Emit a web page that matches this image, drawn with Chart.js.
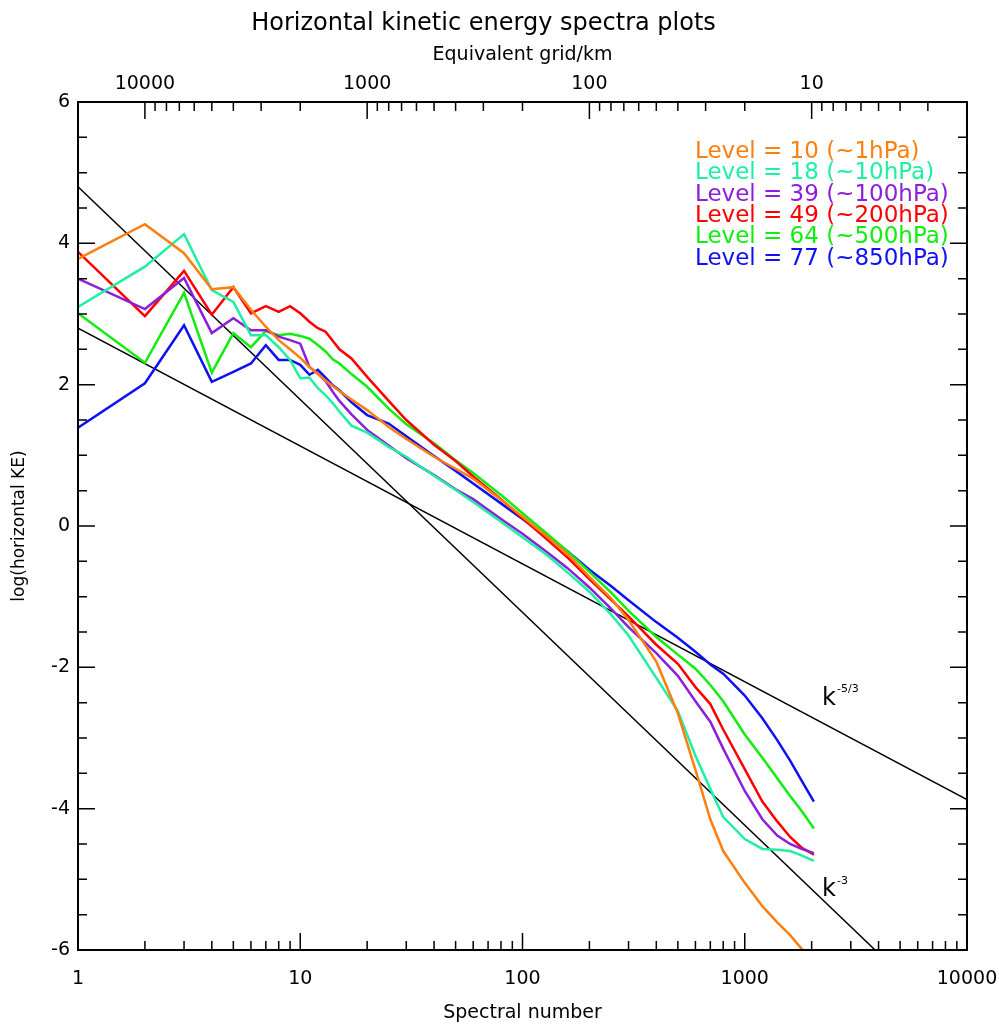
<!DOCTYPE html>
<html>
<head>
<meta charset="utf-8">
<title>Horizontal kinetic energy spectra plots</title>
<script src="https://cdn.jsdelivr.net/npm/chart.js@4.4.0/dist/chart.umd.min.js"></script>
<style>
  html, body { margin: 0; padding: 0; background: #fff; }
  canvas { display: block; }
</style>
</head>
<body>
<canvas id="spectra" width="999" height="1024"></canvas>
<script>
const spectralNumber = [1, 2, 3, 4, 5, 6, 7, 8, 9, 10, 11, 12, 13, 14, 15, 17, 20, 25, 30, 40,
  50, 60, 80, 100, 130, 160, 200, 250, 300, 400, 500, 600, 700, 800, 1000, 1200, 1400, 1600, 1800, 2047];

// log(horizontal KE) per model level
const level10 = [3.78, 4.27, 3.86, 3.35, 3.38, 3.06, 2.82, 2.63, 2.50, 2.38, 2.25, 2.15, 2.06, 1.98, 1.91, 1.79, 1.64, 1.40, 1.23, 0.98,
  0.81, 0.67, 0.37, 0.13, -0.16, -0.40, -0.72, -1.02, -1.33, -1.92, -2.65, -3.45, -4.15, -4.60, -5.05, -5.38, -5.61, -5.79, -5.98, -6.20];
const level18 = [3.10, 3.67, 4.13, 3.34, 3.17, 2.70, 2.70, 2.53, 2.35, 2.09, 2.10, 1.95, 1.85, 1.74, 1.62, 1.42, 1.32, 1.12, 0.98, 0.71,
  0.51, 0.34, 0.06, -0.16, -0.42, -0.66, -0.93, -1.25, -1.55, -2.15, -2.62, -3.25, -3.72, -4.12, -4.43, -4.57, -4.58, -4.60, -4.66, -4.74];
const level39 = [3.50, 3.07, 3.51, 2.73, 2.94, 2.77, 2.77, 2.68, 2.63, 2.58, 2.25, 2.16, 2.05, 1.90, 1.77, 1.58, 1.36, 1.14, 0.96, 0.72,
  0.52, 0.38, 0.10, -0.11, -0.38, -0.60, -0.87, -1.17, -1.43, -1.80, -2.12, -2.48, -2.77, -3.15, -3.75, -4.15, -4.38, -4.50, -4.57, -4.63];
const level49 = [3.88, 2.97, 3.61, 2.99, 3.38, 3.01, 3.11, 3.03, 3.11, 3.01, 2.89, 2.80, 2.75, 2.62, 2.50, 2.37, 2.11, 1.77, 1.50, 1.15,
  0.92, 0.70, 0.38, 0.11, -0.20, -0.45, -0.75, -1.04, -1.28, -1.68, -1.95, -2.28, -2.52, -2.88, -3.44, -3.90, -4.18, -4.40, -4.55, -4.65];
const level64 = [3.01, 2.31, 3.30, 2.17, 2.73, 2.53, 2.76, 2.70, 2.72, 2.69, 2.65, 2.56, 2.47, 2.36, 2.30, 2.15, 1.97, 1.66, 1.44, 1.17,
  0.93, 0.75, 0.44, 0.18, -0.12, -0.36, -0.65, -0.94, -1.20, -1.57, -1.82, -2.02, -2.25, -2.48, -2.95, -3.28, -3.57, -3.82, -4.03, -4.28];
const level77 = [1.39, 2.02, 2.84, 2.04, 2.18, 2.30, 2.56, 2.35, 2.35, 2.28, 2.14, 2.21, 2.10, 1.99, 1.92, 1.75, 1.57, 1.45, 1.27, 0.99,
  0.78, 0.60, 0.32, 0.10, -0.16, -0.36, -0.62, -0.85, -1.05, -1.36, -1.58, -1.78, -1.96, -2.09, -2.40, -2.72, -3.03, -3.32, -3.60, -3.90];

// reference slopes, end points
const kMinus53K = [1, 10000];
const kMinus53Y = [2.8, -3.87];
const kMinus3K = [1, 3860];
const kMinus3Y = [4.8, -6.0];

const levelNames = ['Level = 10 (~1hPa)', 'Level = 18 (~10hPa)', 'Level = 39 (~100hPa)',
  'Level = 49 (~200hPa)', 'Level = 64 (~500hPa)', 'Level = 77 (~850hPa)'];
const levelColors = ['#ff7f0e', '#1ff0a0', '#8b1fdc', '#ff0000', '#10ee10', '#1010f5'];

// tick labels
const kLabels = [1, 10, 100, 1000, 10000];
const gridLabels = [10000, 1000, 100, 10];
const yLabels = [-6, -4, -2, 0, 2, 4, 6];

function decadeTicks(lo, hi) {
  const out = [];
  for (let d = 1; d <= hi; d *= 10) {
    for (let m = 1; m < 10; m++) {
      const v = m * d;
      if (v >= lo && v <= hi) out.push(v);
    }
  }
  return out;
}
const kTicks = decadeTicks(1, 10000);
const gridTicks = decadeTicks(2, 20000);

function pairs(xs, ys) {
  return xs.map((x, i) => ({ x: x, y: ys[i] }));
}

const FONT = '"DejaVu Sans", "Liberation Sans", sans-serif';
Chart.defaults.color = '#000';
Chart.defaults.font.family = FONT;

const series = [level10, level18, level39, level49, level64, level77];
const datasets = series.map((s, i) => ({
  label: levelNames[i],
  data: pairs(spectralNumber, s),
  borderColor: levelColors[i],
  borderWidth: 2.5,
  pointRadius: 0,
  clip: 0
}));
datasets.push({
  label: 'k-5/3',
  data: pairs(kMinus53K, kMinus53Y),
  borderColor: '#000',
  borderWidth: 1.5,
  pointRadius: 0,
  clip: 0
});
datasets.push({
  label: 'k-3',
  data: pairs(kMinus3K, kMinus3Y),
  borderColor: '#000',
  borderWidth: 1.5,
  pointRadius: 0,
  clip: 0
});

// no extra side room for the end labels of the log axes
function fixHorizontal(height) {
  return scale => {
    scale.height = height;
    scale.paddingLeft = 0;
    scale.paddingRight = 0;
  };
}

// inward ticks, frame, level legend and slope labels
const overlay = {
  id: 'overlay',
  afterDatasetsDraw(chart) {
    const { ctx, chartArea: a, scales } = chart;
    ctx.save();
    ctx.strokeStyle = '#000';
    ctx.lineWidth = 1.5;
    ctx.beginPath();
    scales.x.ticks.forEach(t => {
      const px = scales.x.getPixelForValue(t.value);
      const len = kLabels.includes(t.value) ? 17 : 9;
      ctx.moveTo(px, a.bottom);
      ctx.lineTo(px, a.bottom - len);
    });
    scales.x2.ticks.forEach(t => {
      const px = scales.x2.getPixelForValue(t.value);
      const len = gridLabels.includes(t.value) ? 17 : 9;
      ctx.moveTo(px, a.top);
      ctx.lineTo(px, a.top + len);
    });
    scales.y.ticks.forEach(t => {
      const py = scales.y.getPixelForValue(t.value);
      const len = yLabels.includes(t.value) ? 17 : 9;
      ctx.moveTo(a.left, py);
      ctx.lineTo(a.left + len, py);
      ctx.moveTo(a.right, py);
      ctx.lineTo(a.right - len, py);
    });
    ctx.stroke();
    ctx.lineWidth = 2;
    ctx.strokeRect(a.left, a.top, a.right - a.left, a.bottom - a.top);

    ctx.font = '23px ' + FONT;
    ctx.textAlign = 'left';
    ctx.textBaseline = 'alphabetic';
    levelNames.forEach((name, i) => {
      ctx.fillStyle = levelColors[i];
      ctx.fillText(name, 695, 158 + i * 21.3);
    });

    ctx.fillStyle = '#000';
    ctx.font = '24px ' + FONT;
    ctx.fillText('k', 822, 705);
    ctx.fillText('k', 822, 896);
    ctx.font = '11px ' + FONT;
    ctx.fillText('-5/3', 837, 692);
    ctx.fillText('-3', 837, 884);
    ctx.restore();
  }
};

new Chart(document.getElementById('spectra'), {
  type: 'line',
  data: { datasets: datasets },
  options: {
    responsive: false,
    animation: false,
    layout: { padding: { right: 32 } },
    plugins: {
      legend: { display: false },
      tooltip: { enabled: false },
      title: {
        display: true,
        text: 'Horizontal kinetic energy spectra plots',
        font: { size: 24, weight: 'normal', lineHeight: 1 },
        padding: { top: 12, bottom: 0 }
      }
    },
    scales: {
      x: {
        type: 'logarithmic',
        position: 'bottom',
        min: 1,
        max: 10000,
        grid: { display: false, drawTicks: false },
        border: { display: false },
        afterBuildTicks: scale => { scale.ticks = kTicks.map(v => ({ value: v })); },
        afterFit: fixHorizontal(74),
        ticks: {
          autoSkip: false,
          maxRotation: 0,
          padding: 18,
          font: { size: 19 },
          callback: v => kLabels.includes(v) ? String(v) : ''
        },
        title: {
          display: true,
          text: 'Spectral number',
          font: { size: 19, lineHeight: 1 },
          padding: { top: 0, bottom: 1 }
        }
      },
      x2: {
        type: 'logarithmic',
        position: 'top',
        reverse: true,
        min: 2,
        max: 20000,
        grid: { display: false, drawTicks: false },
        border: { display: false },
        afterBuildTicks: scale => { scale.ticks = gridTicks.map(v => ({ value: v })); },
        afterFit: fixHorizontal(66),
        ticks: {
          autoSkip: false,
          maxRotation: 0,
          padding: 7,
          font: { size: 19 },
          callback: v => gridLabels.includes(v) ? String(v) : ''
        },
        title: {
          display: true,
          text: 'Equivalent grid/km',
          font: { size: 19, lineHeight: 1 },
          padding: { top: 10, bottom: 0 }
        }
      },
      y: {
        type: 'linear',
        position: 'left',
        min: -6,
        max: 6,
        grid: { display: false, drawTicks: false },
        border: { display: false },
        afterFit: scale => { scale.width = 78; },
        ticks: {
          stepSize: 0.5,
          autoSkip: false,
          padding: 8,
          font: { size: 19 },
          callback: v => yLabels.includes(v) ? String(v) : ''
        },
        title: {
          display: true,
          text: 'log(horizontal KE)',
          font: { size: 17, lineHeight: 1 },
          padding: { top: 11, bottom: 0 }
        }
      }
    }
  },
  plugins: [overlay]
});
</script>
</body>
</html>
